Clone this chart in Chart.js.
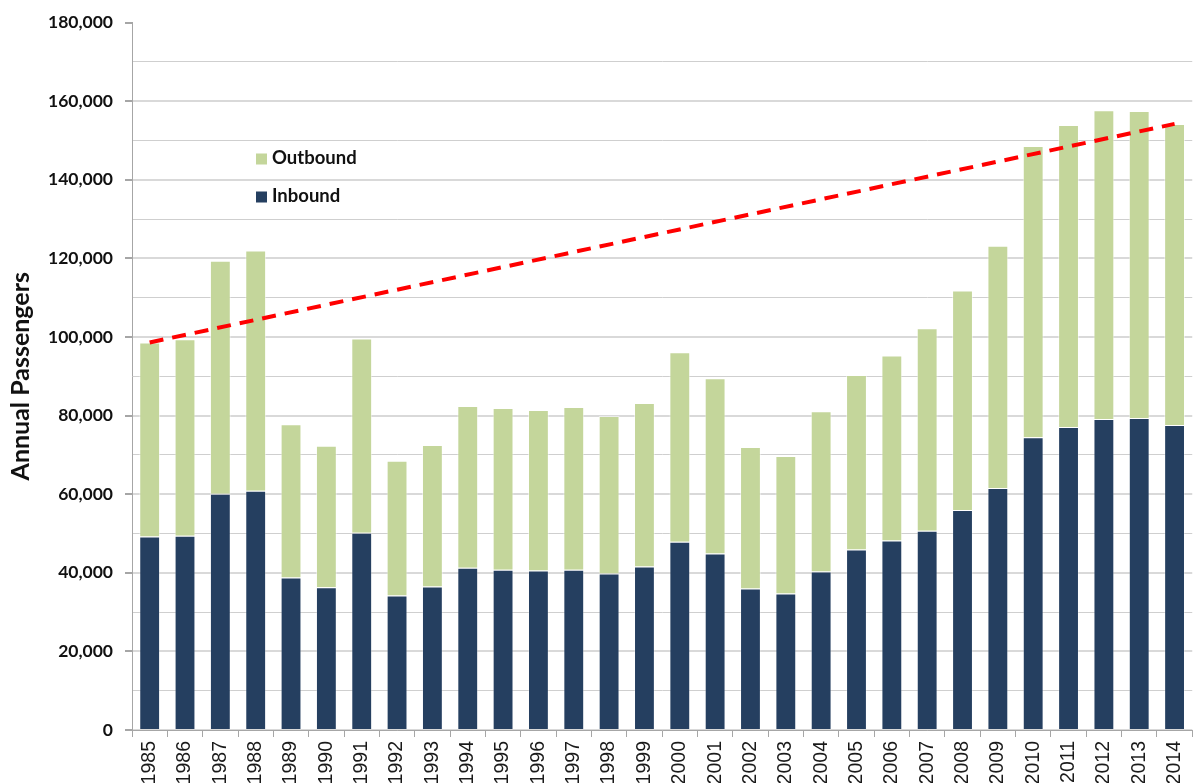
<!DOCTYPE html>
<html>
<head>
<meta charset="utf-8">
<script src="https://cdn.jsdelivr.net/npm/chart.js@4.4.1/dist/chart.umd.min.js"></script>
<style>
  html, body { margin: 0; padding: 0; background: #fff; }
  .wrap { position: relative; width: 1202px; height: 783px; overflow: hidden; }
</style>
</head>
<body>
<div class="wrap"><canvas id="pax"></canvas></div>
<script>
// ---------- Data ----------
const years = ['1985','1986','1987','1988','1989','1990','1991','1992','1993','1994',
  '1995','1996','1997','1998','1999','2000','2001','2002','2003','2004',
  '2005','2006','2007','2008','2009','2010','2011','2012','2013','2014'];

const inbound = [49200, 49400, 60100, 60900, 38800, 36300, 50200, 34200, 36500, 41300,
  40800, 40600, 40800, 39800, 41600, 47900, 44900, 36000, 34700, 40300,
  45900, 48200, 50700, 56000, 61600, 74500, 77100, 79100, 79400, 77600];

const outbound = [49400, 50000, 59300, 61100, 39000, 36000, 49400, 34300, 36000, 41100,
  41100, 40800, 41400, 40100, 41600, 48200, 44600, 36000, 35000, 40800,
  44400, 47100, 51500, 55800, 61600, 74100, 76800, 78600, 78100, 76600];

// dashed trend: only its two end points are given, the line spans the gaps
const trend = [98600, null, null, null, null, null, null, null, null, null,
  null, null, null, null, null, null, null, null, null, null,
  null, null, null, null, null, null, null, null, null, 154200];

const yTicks = [0, 20000, 40000, 60000, 80000, 100000, 120000, 140000, 160000, 180000];

const INBOUND = '#253f60';
const OUTBOUND = '#c4d69b';

const fmt = (v)=> Number(v).toLocaleString('en-US');

// legend drawn inside the plot, like the original
const insideLegend = {
  id: 'insideLegend',
  afterDraw(chart){
    const {ctx, chartArea} = chart;
    const items = chart.data.datasets.filter(d => d.inLegend).sort((a,b)=> a.legendOrder - b.legendOrder);
    ctx.save();
    ctx.font = 'bold 18.5px Lato, "Open Sans", sans-serif';
    ctx.textBaseline = 'middle';
    items.forEach((d, i)=>{
      const x = chartArea.left + 124;
      const y = chartArea.top + 136 + i * 38;
      ctx.fillStyle = d.backgroundColor;
      ctx.fillRect(x, y - 5, 11, 11);
      ctx.fillStyle = '#111';
      ctx.fillText(d.label, x + 16, y);
    });
    ctx.restore();
  }
};

new Chart(document.getElementById('pax').getContext('2d'), {
  data: {
    labels: years,
    datasets: [
      {
        type: 'line',
        label: 'Trend',
        data: trend,
        stack: 'trend',
        spanGaps: true,
        borderColor: '#ff0000',
        borderWidth: 4,
        borderDash: [14, 9],
        pointRadius: 0,
        tension: 0,
        order: 0
      },
      {
        type: 'bar',
        label: 'Inbound',
        data: inbound,
        stack: 'pax',
        backgroundColor: INBOUND,
        borderColor: 'rgba(255,255,255,0.25)',
        borderWidth: 1,
        categoryPercentage: 1,
        barPercentage: 0.59,
        inLegend: true,
        legendOrder: 1,
        order: 2
      },
      {
        type: 'bar',
        label: 'Outbound',
        data: outbound,
        stack: 'pax',
        backgroundColor: OUTBOUND,
        borderColor: 'rgba(255,255,255,0.5)',
        borderWidth: 1,
        categoryPercentage: 1,
        barPercentage: 0.59,
        inLegend: true,
        legendOrder: 0,
        order: 2
      }
    ]
  },
  options: {
    responsive: true,
    maintainAspectRatio: false,
    animation: false,
    layout: { padding: { top: 20, right: 2, left: 0, bottom: 0 } },
    plugins: {
      legend: { display: false },
      tooltip: { enabled: false }
    },
    scales: {
      x: {
        stacked: true,
        offset: true,
        grid: {
          offset: true,
          drawOnChartArea: false,
          tickLength: 7,
          color: '#a6a6a6'
        },
        border: { color: '#a6a6a6' },
        ticks: {
          minRotation: 90,
          maxRotation: 90,
          autoSkip: false,
          padding: 4,
          color: '#1a1a1a',
          font: { family: '"Liberation Sans", Arial, sans-serif', size: 19.5 }
        },
        afterFit: (s)=> { s.height = 53; }
      },
      y: {
        stacked: true,
        min: yTicks[0],
        max: yTicks[yTicks.length - 1],
        afterBuildTicks: (s)=> {
          const t = [];
          for (let i = 0; i < yTicks.length; i++) {
            t.push({value: yTicks[i]});
            if (i < yTicks.length - 1) t.push({value: (yTicks[i] + yTicks[i+1]) / 2, minor: true});
          }
          s.ticks = t;
        },
        grid: {
          tickLength: 7,
          color: (c)=> {
            if (!c.tick) return '#d9d9d9';
            if (c.tick.value === yTicks[yTicks.length - 1]) return 'rgba(0,0,0,0)';
            return c.tick.minor ? '#cfcfcf' : '#d9d9d9';
          },
          lineWidth: (c)=> (c.tick && c.tick.minor) ? 1 : 2,
          tickColor: (c)=> (c.tick && c.tick.minor) ? 'rgba(0,0,0,0)' : '#a6a6a6'
        },
        border: { color: '#a6a6a6' },
        ticks: {
          padding: 12,
          color: '#111',
          font: { family: 'Lato, "Open Sans", sans-serif', size: 17.5, weight: 'bold' },
          callback: function(v, i, ticks){ return ticks[i].minor ? '' : fmt(v); }
        },
        title: {
          display: true,
          text: 'Annual Passengers',
          color: '#111',
          padding: { top: 6, bottom: 0 },
          font: { family: 'Lato, "Open Sans", sans-serif', size: 25, weight: 'bold' }
        },
        afterFit: (s)=> { s.width = 132; }
      }
    }
  },
  plugins: [insideLegend]
});
</script>
</body>
</html>
